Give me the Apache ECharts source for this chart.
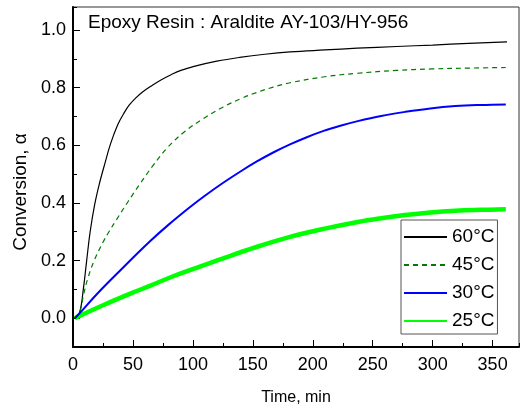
<!DOCTYPE html>
<html>
<head>
<meta charset="utf-8">
<script src="https://cdn.jsdelivr.net/npm/echarts@6/dist/echarts.min.js"></script>
<style>
  html, body { margin: 0; padding: 0; background: #fff; }
  #chart { width: 521px; height: 406px; }
</style>
</head>
<body>
<div id="chart"></div>
<script>
// Degree of cure vs. time for the AY-103/HY-956 system at four temperatures.
const seriesNames = ['60°C', '45°C', '30°C', '25°C'];

// [time (min), conversion α]
const cure60 = [
  [1.5, 0], [5.5, 0.02], [8.6, 0.1], [11.4, 0.2], [14.3, 0.3], [18.1, 0.395],
  [22.2, 0.47], [26.8, 0.54], [31.3, 0.605], [37.4, 0.672], [43, 0.715], [47, 0.74],
  [52, 0.763], [58, 0.785], [65, 0.805], [73, 0.826], [81.8, 0.845], [90, 0.86],
  [101, 0.874], [120, 0.892], [139, 0.905], [160, 0.916], [181, 0.924], [210, 0.931],
  [237, 0.937], [270, 0.943], [300, 0.948], [330, 0.954], [362, 0.959]
];
const cure45 = [
  [1.5, 0], [5.5, 0.02], [9, 0.085], [12.5, 0.14], [17.7, 0.2], [25.2, 0.265],
  [30, 0.3], [36.3, 0.342], [46, 0.405], [55.8, 0.466], [66.8, 0.53], [79, 0.593],
  [93, 0.647], [108.5, 0.692], [125.3, 0.733], [140, 0.762], [153, 0.783],
  [167, 0.802], [181, 0.817], [210, 0.838], [237, 0.85], [270, 0.86], [299, 0.865],
  [330, 0.868], [361, 0.87]
];
const cure30 = [
  [1.5, 0], [5.5, 0.017], [20.2, 0.085], [40.4, 0.17], [64, 0.266], [79.3, 0.323],
  [97.4, 0.385], [110, 0.425], [125.3, 0.47], [140, 0.51], [153, 0.543], [167, 0.575],
  [181, 0.603], [195, 0.628], [209, 0.65], [223, 0.668], [237.5, 0.684], [257, 0.702],
  [277, 0.716], [298, 0.728], [319, 0.736], [340, 0.74], [361, 0.742]
];
const cure25 = [
  [1.5, 0], [5.5, 0.008], [25, 0.045], [48.8, 0.087], [64, 0.112], [82, 0.143],
  [101, 0.172], [125.3, 0.208], [153, 0.247], [181, 0.282], [209, 0.31],
  [237.5, 0.334], [257, 0.347], [277, 0.358], [298, 0.367], [319, 0.373],
  [340, 0.376], [361, 0.378]
];

// Axis ranges and tick steps
const X_MIN = 0, X_MAX = 372, X_MAJOR = 50, X_MINOR = 25;
const Y_MIN = -0.1, Y_MAX = 1.08, Y_MAJOR = 0.2, Y_MINOR = 0.1;

const FONT = '"Liberation Sans", Arial, Helvetica, sans-serif';

// Plot frame in pixels
const PLOT = { left: 73, top: 7, width: 446, height: 340 };
// The labelled y axis starts at 0, so its box ends where y = 0 falls
const zeroFromBottom = PLOT.height * (0 - Y_MIN) / (Y_MAX - Y_MIN);

const chart = echarts.init(document.getElementById('chart'), null, { renderer: 'canvas' });

const tickLine = { color: '#000', width: 1 };
const gridBase = { left: PLOT.left, top: PLOT.top, width: PLOT.width, containLabel: false, outerBoundsMode: 'none' };

const option = {
  animation: false,
  backgroundColor: '#fff',
  textStyle: { fontFamily: FONT },
  title: {
    text: 'Epoxy Resin : Araldite AY-103/HY-956',
    left: 88, top: 13, padding: 0,
    textStyle: { fontFamily: FONT, fontSize: 19, fontWeight: 'normal', color: '#000' }
  },
  legend: {
    data: seriesNames,
    orient: 'vertical',
    left: 401, top: 220,
    padding: [6, 3, 2, 2],
    itemGap: 6,
    itemWidth: 43, itemHeight: 14,
    borderColor: '#555', borderWidth: 1,
    backgroundColor: '#fff',
    itemStyle: { color: 'rgba(0,0,0,0)', borderColor: 'rgba(0,0,0,0)', borderWidth: 0, opacity: 0 },
    textStyle: { fontFamily: FONT, fontSize: 19, color: '#000', lineHeight: 22 }
  },
  grid: [
    // 0: data, frame, x labels, minor y ticks
    Object.assign({ height: PLOT.height, show: true, borderColor: '#333', borderWidth: 1 }, gridBase),
    // 1: minor x ticks
    Object.assign({ height: PLOT.height, show: false }, gridBase),
    // 2: labelled y axis from 0 upward
    Object.assign({ height: PLOT.height - zeroFromBottom, show: false }, gridBase)
  ],
  xAxis: [
    {
      type: 'value', gridIndex: 0, min: X_MIN, max: X_MAX, interval: X_MAJOR,
      name: 'Time, min', nameLocation: 'middle', nameGap: 43,
      nameTextStyle: { fontFamily: FONT, fontSize: 16, color: '#000' },
      axisLine: { show: true, onZero: false, lineStyle: { color: '#000', width: 2 } },
      axisTick: { show: true, inside: true, length: 7, lineStyle: tickLine },
      axisLabel: { margin: 9, fontFamily: FONT, fontSize: 18, color: '#000', showMaxLabel: false },
      splitLine: { show: false }
    },
    {
      type: 'value', gridIndex: 1, min: X_MIN, max: X_MAX, interval: X_MINOR,
      axisLine: { show: false, onZero: false },
      axisTick: { show: true, inside: true, length: 4, lineStyle: tickLine },
      axisLabel: { show: false },
      splitLine: { show: false }
    },
    {
      type: 'value', gridIndex: 2, min: X_MIN, max: X_MAX, show: false,
      axisLine: { onZero: false }
    }
  ],
  yAxis: [
    {
      type: 'value', gridIndex: 0, min: Y_MIN, max: Y_MAX, interval: Y_MINOR,
      name: 'Conversion, α', nameLocation: 'middle', nameGap: 43,
      nameTextStyle: { fontFamily: FONT, fontSize: 19, color: '#000', padding: [0, 30, 0, 0] },
      axisLine: { show: true, onZero: false, lineStyle: { color: '#000', width: 2 } },
      axisTick: { show: true, inside: true, length: 4, lineStyle: tickLine },
      axisLabel: { show: false },
      splitLine: { show: false }
    },
    {
      type: 'value', gridIndex: 1, min: Y_MIN, max: Y_MAX, show: false,
      axisLine: { onZero: false }
    },
    {
      type: 'value', gridIndex: 2, min: 0, max: Y_MAX, interval: Y_MAJOR,
      axisLine: { show: false, onZero: false },
      axisTick: { show: true, inside: true, length: 7, lineStyle: tickLine },
      axisLabel: {
        margin: 7, fontFamily: FONT, fontSize: 18, color: '#000', showMaxLabel: false,
        formatter: v => v.toFixed(1)
      },
      splitLine: { show: false }
    }
  ],
  series: [
    {
      name: seriesNames[0], type: 'line', data: cure60, xAxisIndex: 0, yAxisIndex: 0,
      symbol: 'none', smooth: 0.4,
      lineStyle: { color: '#000', width: 1.2 }, itemStyle: { color: '#000' }
    },
    {
      name: seriesNames[1], type: 'line', data: cure45, xAxisIndex: 0, yAxisIndex: 0,
      symbol: 'none', smooth: 0.4,
      lineStyle: { color: '#007a00', width: 1.2, type: [5, 4] }, itemStyle: { color: '#007a00' }
    },
    {
      name: seriesNames[2], type: 'line', data: cure30, xAxisIndex: 0, yAxisIndex: 0,
      symbol: 'none', smooth: 0.4,
      lineStyle: { color: '#0000ff', width: 2 }, itemStyle: { color: '#0000ff' }
    },
    {
      name: seriesNames[3], type: 'line', data: cure25, xAxisIndex: 0, yAxisIndex: 0,
      symbol: 'none', smooth: 0.4, z: 1,
      lineStyle: { color: '#00ff00', width: 4.5 }, itemStyle: { color: '#00ff00' }
    }
  ]
};

chart.setOption(option);
</script>
</body>
</html>
